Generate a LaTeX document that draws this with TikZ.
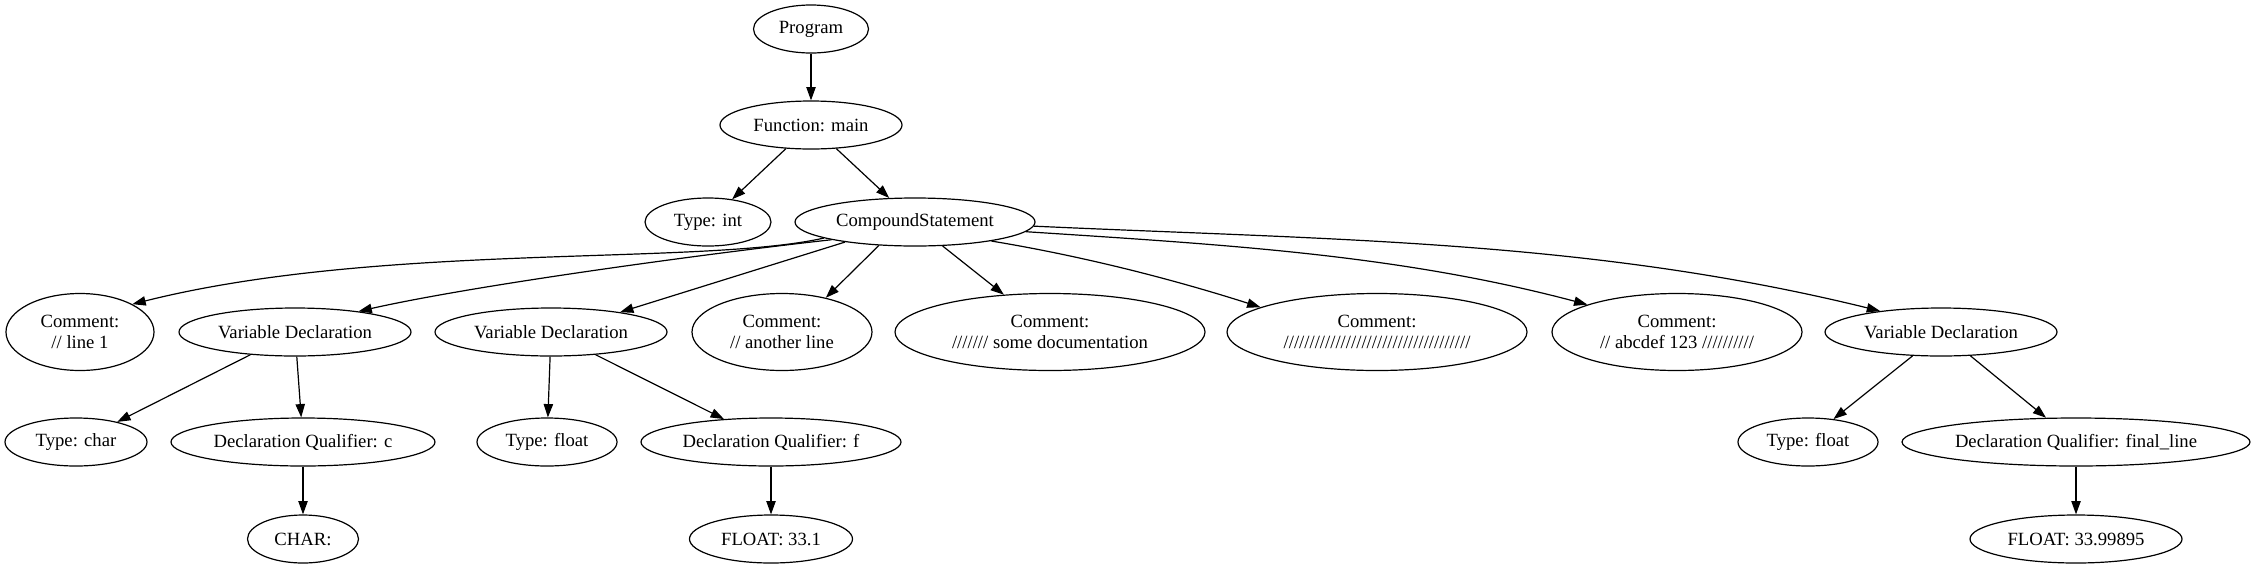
\documentclass[tikz,border=0pt]{standalone}
\usepackage{fontspec}
\setmainfont{Liberation Serif}
\usetikzlibrary{shapes.geometric,arrows.meta}
\begin{document}
\begin{tikzpicture}[x=0.75pt,y=-0.75pt,
  gnode/.style={ellipse,draw,line width=0.9pt,inner sep=0pt,align=center,
    font=\fontsize{14pt}{16pt}\selectfont,minimum height=36pt},
  twoline/.style={minimum height=57.75pt},
  edge/.style={line width=0.9pt,-{Triangle[length=10pt,width=7pt]}}]
\useasboundingbox (0,0) rectangle (2255,568);
% row 1-2
\node[gnode,minimum width=86.25pt] (prog) at (811,29) {Program};
\node[gnode,minimum width=136.5pt] (func) at (811,125) {Function: main};
\node[gnode,minimum width=94.5pt] (tint) at (708,222) {Type: int};
\node[gnode,minimum width=180pt] (cs) at (915,222) {CompoundStatement};
% row 3
\node[gnode,twoline,minimum width=111pt] (c1) at (80,332) {Comment:\\// line 1};
\node[gnode,minimum width=174pt] (vd1) at (295,332) {Variable Declaration};
\node[gnode,minimum width=174pt] (vd2) at (551,332) {Variable Declaration};
\node[gnode,twoline,minimum width=135pt] (c2) at (782,332) {Comment:\\// another line};
\node[gnode,twoline,minimum width=232.5pt] (c3) at (1050,332) {Comment:\\/////// some documentation};
\node[gnode,twoline,minimum width=225pt] (c4) at (1377,332) {Comment:\\////////////////////////////////////};
\node[gnode,twoline,minimum width=187.5pt] (c5) at (1677,332) {Comment:\\// abcdef 123 //////////};
\node[gnode,minimum width=174pt] (vd3) at (1941,332) {Variable Declaration};
% row 4
\node[gnode,minimum width=106.5pt] (tchar) at (76,442) {Type: char};
\node[gnode,minimum width=198pt] (dqc) at (303,442) {Declaration Qualifier: c};
\node[gnode,minimum width=105pt] (tf1) at (547,442) {Type: float};
\node[gnode,minimum width=195pt] (dqf) at (771,442) {Declaration Qualifier: f};
\node[gnode,minimum width=105pt] (tf2) at (1808,442) {Type: float};
\node[gnode,minimum width=261pt] (dqfl) at (2076,442) {Declaration Qualifier: final\_line};
% row 5
\node[gnode,minimum width=83.25pt] (charn) at (303,539) {CHAR:};
\node[gnode,minimum width=122.25pt] (f1) at (771,539) {FLOAT: 33.1};
\node[gnode,minimum width=159pt] (f2) at (2076,539) {FLOAT: 33.99895};
% edges
\draw[edge] (prog) -- (func);
\draw[edge] (func) -- (tint);
\draw[edge] (func) -- (cs);
\draw[edge] (cs.190) .. controls (700,266) and (380,242) .. (c1.28);
\draw[edge] (cs.192) .. controls (720,252) and (480,284) .. (vd1.18);
\draw[edge] (cs.196.5) -- (vd2.16);
\draw[edge] (cs.213) -- (c2.38);
\draw[edge] (cs.319) -- (c3.141);
\draw[edge] (cs.346) .. controls (1082,256) and (1172,279) .. (c4.168);
\draw[edge] (cs.355) .. controls (1231,245) and (1400,255) .. (c5.163);
\draw[edge] (cs.358) .. controls (1335,240) and (1591,240) .. (vd3.161);
\draw[edge] (vd1.207) -- (tchar.26);
\draw[edge] (vd1) -- (dqc);
\draw[edge] (dqc) -- (charn);
\draw[edge] (vd2) -- (tf1);
\draw[edge] (vd2.333) -- (dqf.154);
\draw[edge] (dqf) -- (f1);
\draw[edge] (vd3.220) -- (tf2.42);
\draw[edge] (vd3.321) -- (dqfl.141);
\draw[edge] (dqfl) -- (f2);
\end{tikzpicture}
\end{document}
